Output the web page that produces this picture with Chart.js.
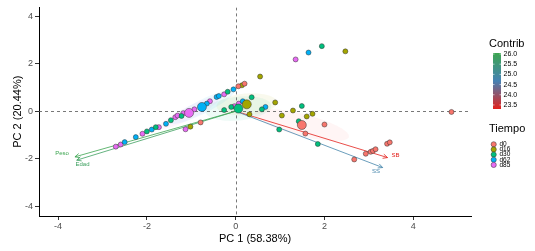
<!DOCTYPE html>
<html>
<head>
<meta charset="utf-8">
<script src="https://cdn.jsdelivr.net/npm/chart.js@4/dist/chart.umd.min.js"></script>
<style>
    html, body { margin: 0; padding: 0; background: #fff; }
</style>
</head>
<body>
<canvas id="biplot" width="535" height="251"></canvas>
<script>
// individuals, by group (Tiempo)
const d0X = [0.06, 0.20, 4.86, 2.00, 1.57, 2.67, 2.93, 3.04, 3.09, 3.15, 3.41, 3.47, -0.79];
const d0Y = [1.05, 1.16, -0.03, -0.56, -0.94, -2.03, -1.79, -1.71, -1.67, -1.60, -1.37, -1.31, -0.47];
const d16X = [0.14, 0.55, 2.47, 0.89, 1.04, 1.29, 1.60, 1.73, 0.31, -1.02];
const d16Y = [1.09, 1.46, 2.52, 0.37, -0.18, 0.03, -0.22, -0.11, -0.13, -0.65];
const d30X = [-2.00, -1.80, -1.46, -1.22, -0.18, -0.26, -0.10, 0.36, 0.59, 1.49, 1.42, 0.98, 1.85, 1.94];
const d30Y = [-0.85, -0.67, -0.38, -0.20, 0.82, 0.05, 0.18, 0.59, 0.08, 0.22, -0.42, -0.77, -1.38, 2.74];
const d62X = [-2.50, -2.25, -1.89, -1.57, -0.65, -0.43, -0.38, -0.05, 0.16, 0.67, 1.64];
const d62Y = [-1.30, -1.09, -0.77, -0.53, 0.32, 0.60, 0.64, 0.92, 0.42, 0.18, 2.47];
const d85X = [-2.70, -2.59, -2.10, -1.73, -1.36, -1.31, -1.18, -0.93, -0.58, -0.26, -0.03, 0.07, 1.35, -1.13];
const d85Y = [-1.49, -1.40, -0.95, -0.67, -0.25, -0.18, -0.08, 0.08, 0.42, 0.71, 0.21, 0.32, 2.18, -0.76];

const groups = ['d0', 'd16', 'd30', 'd62', 'd85'];
const groupColors = ['#F8766D', '#A3A500', '#00BF7D', '#00B0F6', '#E76BF3'];
const groupX = [d0X, d16X, d30X, d62X, d85X];
const groupY = [d0Y, d16Y, d30Y, d62Y, d85Y];

// group means (big points) and confidence ellipse half-axes
const meanX = [1.49, 0.25, 0.06, -0.76, -1.05];
const meanY = [-0.58, 0.29, 0.11, 0.18, -0.07];
const ellMajor = [[1.06, -0.50], [0.68, 0.08], [0.74, 0.13], [0.72, 0.67], [0.68, 0.63]];
const ellMinor = [[-0.06, -0.45], [0.00, 0.46], [0.02, -0.50], [0.07, -0.26], [0.06, -0.24]];

// variables
const varNames = ['Peso', 'Edad', 'SS', 'SB'];
const varX = [-3.62, -3.58, 3.31, 3.42];
const varY = [-1.92, -2.06, -2.37, -1.95];
const varContrib = [26.05, 25.85, 24.8, 23.3];
const varLabelX = [-3.91, -3.45, 3.16, 3.60];
const varLabelY = [-1.76, -2.25, -2.53, -1.84];

const contribBreaks = [26.0, 25.5, 25.0, 24.5, 24.0, 23.5];
const contribRange = [23.3, 26.05];

const xTicks = [-4, -2, 0, 2, 4];
const yTicks = [-4, -2, 0, 2, 4];

const FONT = '"Liberation Sans", Arial, sans-serif';
const gradStops = [[227, 33, 28], [70, 130, 180], [60, 165, 80]];

function contribColor(v) {
    let t = (v - contribRange[0]) / (contribRange[1] - contribRange[0]);
    t = Math.max(0, Math.min(1, t)) * (gradStops.length - 1);
    const i = Math.min(Math.floor(t), gradStops.length - 2);
    const f = t - i;
    const c = gradStops[i].map((a, k) => Math.round(a + (gradStops[i + 1][k] - a) * f));
    return `rgb(${c[0]},${c[1]},${c[2]})`;
}

function hexA(hex, a) {
    const n = parseInt(hex.slice(1), 16);
    return `rgba(${n >> 16},${(n >> 8) & 255},${n & 255},${a})`;
}

const datasets = [];
groups.forEach((g, gi) => {
    datasets.push({
        label: g + ' mean',
        data: [{ x: meanX[gi], y: meanY[gi] }],
        backgroundColor: groupColors[gi],
        borderColor: '#333',
        borderWidth: 0.5,
        pointRadius: 4.5,
        order: 0
    });
});
groups.forEach((g, gi) => {
    datasets.push({
        label: g,
        data: groupX[gi].map((x, i) => ({ x, y: groupY[gi][i] })),
        backgroundColor: groupColors[gi],
        borderColor: '#333',
        borderWidth: 0.5,
        pointRadius: 2.5,
        order: 1
    });
});
varNames.forEach((v, i) => {
    datasets.push({
        label: v,
        data: [{ x: 0, y: 0 }, { x: varX[i], y: varY[i] }],
        showLine: true,
        borderColor: contribColor(varContrib[i]),
        borderWidth: 0.8,
        pointRadius: 0,
        order: 3
    });
});

const biplotDecor = {
    id: 'biplotDecor',
    beforeDatasetsDraw(chart) {
        const { ctx, chartArea: a, scales: { x, y } } = chart;
        ctx.save();
        ctx.beginPath();
        ctx.rect(a.left, a.top, a.right - a.left, a.bottom - a.top);
        ctx.clip();
        // confidence ellipses
        groups.forEach((g, gi) => {
            ctx.beginPath();
            for (let k = 0; k <= 72; k++) {
                const t = k / 72 * Math.PI * 2;
                const px = x.getPixelForValue(meanX[gi] + ellMajor[gi][0] * Math.cos(t) + ellMinor[gi][0] * Math.sin(t));
                const py = y.getPixelForValue(meanY[gi] + ellMajor[gi][1] * Math.cos(t) + ellMinor[gi][1] * Math.sin(t));
                if (k === 0) ctx.moveTo(px, py); else ctx.lineTo(px, py);
            }
            ctx.closePath();
            ctx.fillStyle = hexA(groupColors[gi], 0.07);
            ctx.fill();
        });
        // zero lines
        ctx.strokeStyle = '#555';
        ctx.lineWidth = 0.8;
        ctx.setLineDash([3, 3]);
        const x0 = Math.round(x.getPixelForValue(0)) + 0.5;
        const y0 = Math.round(y.getPixelForValue(0)) + 0.5;
        ctx.beginPath();
        ctx.moveTo(x0, a.top); ctx.lineTo(x0, a.bottom);
        ctx.moveTo(a.left, y0); ctx.lineTo(a.right, y0);
        ctx.stroke();
        ctx.restore();
    },
    afterDatasetsDraw(chart) {
        const { ctx, scales: { x, y } } = chart;
        ctx.save();
        const ox = x.getPixelForValue(0), oy = y.getPixelForValue(0);
        varNames.forEach((v, i) => {
            const col = contribColor(varContrib[i]);
            const ex = x.getPixelForValue(varX[i]), ey = y.getPixelForValue(varY[i]);
            const ang = Math.atan2(ey - oy, ex - ox);
            ctx.strokeStyle = col;
            ctx.lineWidth = 0.8;
            ctx.beginPath();
            ctx.moveTo(ex - 5 * Math.cos(ang - 0.45), ey - 5 * Math.sin(ang - 0.45));
            ctx.lineTo(ex, ey);
            ctx.lineTo(ex - 5 * Math.cos(ang + 0.45), ey - 5 * Math.sin(ang + 0.45));
            ctx.stroke();
            ctx.fillStyle = col;
            ctx.font = `6px ${FONT}`;
            ctx.textAlign = 'center';
            ctx.textBaseline = 'middle';
            ctx.fillText(v, x.getPixelForValue(varLabelX[i]), y.getPixelForValue(varLabelY[i]));
        });
        ctx.restore();
    },
    afterDraw(chart) {
        const ctx = chart.ctx;
        ctx.save();
        ctx.fillStyle = '#000';
        ctx.textAlign = 'left';
        ctx.textBaseline = 'middle';
        ctx.font = `11px ${FONT}`;
        ctx.fillText('Contrib', 489, 44);
        // colour bar
        const bx = 493, bw = 8, bt = 53, bb = 109;
        const grad = ctx.createLinearGradient(0, bb, 0, bt);
        gradStops.forEach((c, i) => grad.addColorStop(i / (gradStops.length - 1), `rgb(${c})`));
        ctx.fillStyle = grad;
        ctx.fillRect(bx, bt, bw, bb - bt);
        ctx.font = `7px ${FONT}`;
        contribBreaks.forEach(b => {
            const py = bb - (b - contribRange[0]) / (contribRange[1] - contribRange[0]) * (bb - bt);
            ctx.strokeStyle = '#fff';
            ctx.lineWidth = 0.6;
            ctx.beginPath();
            ctx.moveTo(bx, py); ctx.lineTo(bx + 1.5, py);
            ctx.moveTo(bx + bw - 1.5, py); ctx.lineTo(bx + bw, py);
            ctx.stroke();
            ctx.fillStyle = '#000';
            ctx.fillText(b.toFixed(1), 503.5, py);
        });
        // Tiempo legend
        ctx.font = `11px ${FONT}`;
        ctx.fillText('Tiempo', 489, 129);
        ctx.font = `6.5px ${FONT}`;
        groups.forEach((g, gi) => {
            const py = 144.3 + gi * 5.15;
            ctx.beginPath();
            ctx.arc(493.7, py, 2.6, 0, Math.PI * 2);
            ctx.fillStyle = groupColors[gi];
            ctx.fill();
            ctx.strokeStyle = '#333';
            ctx.lineWidth = 0.5;
            ctx.stroke();
            ctx.fillStyle = '#000';
            ctx.fillText(g, 499.5, py);
        });
        ctx.restore();
    }
};

const axisCommon = {
    type: 'linear',
    grid: { drawOnChartArea: false, tickLength: 4, color: '#333', tickWidth: 1 },
    border: { color: '#000', width: 1 },
    ticks: { color: '#4D4D4D', font: { family: FONT, size: 9 }, padding: 1 }
};

new Chart(document.getElementById('biplot'), {
    type: 'scatter',
    data: { datasets },
    options: {
        responsive: false,
        animation: false,
        devicePixelRatio: 1,
        layout: { padding: { left: 0, right: 64, top: 7, bottom: 0 } },
        plugins: { legend: { display: false }, tooltip: { enabled: false } },
        scales: {
            x: {
                ...axisCommon,
                min: -4.43, max: 5.30,
                afterBuildTicks: s => { s.ticks = xTicks.map(v => ({ value: v })); },
                afterFit: s => { s.height = 35; },
                title: { display: true, text: 'PC 1 (58.38%)', color: '#000', font: { family: FONT, size: 11 }, padding: { top: 0, bottom: 5 } }
            },
            y: {
                ...axisCommon,
                min: -4.41, max: 4.37,
                ticks: { ...axisCommon.ticks, padding: 2 },
                afterBuildTicks: s => { s.ticks = yTicks.map(v => ({ value: v })); },
                afterFit: s => { s.width = 39; },
                title: { display: true, text: 'PC 2 (20.44%)', color: '#000', font: { family: FONT, size: 11 }, padding: { top: 11, bottom: 0 } }
            }
        }
    },
    plugins: [biplotDecor]
});
</script>
</body>
</html>
